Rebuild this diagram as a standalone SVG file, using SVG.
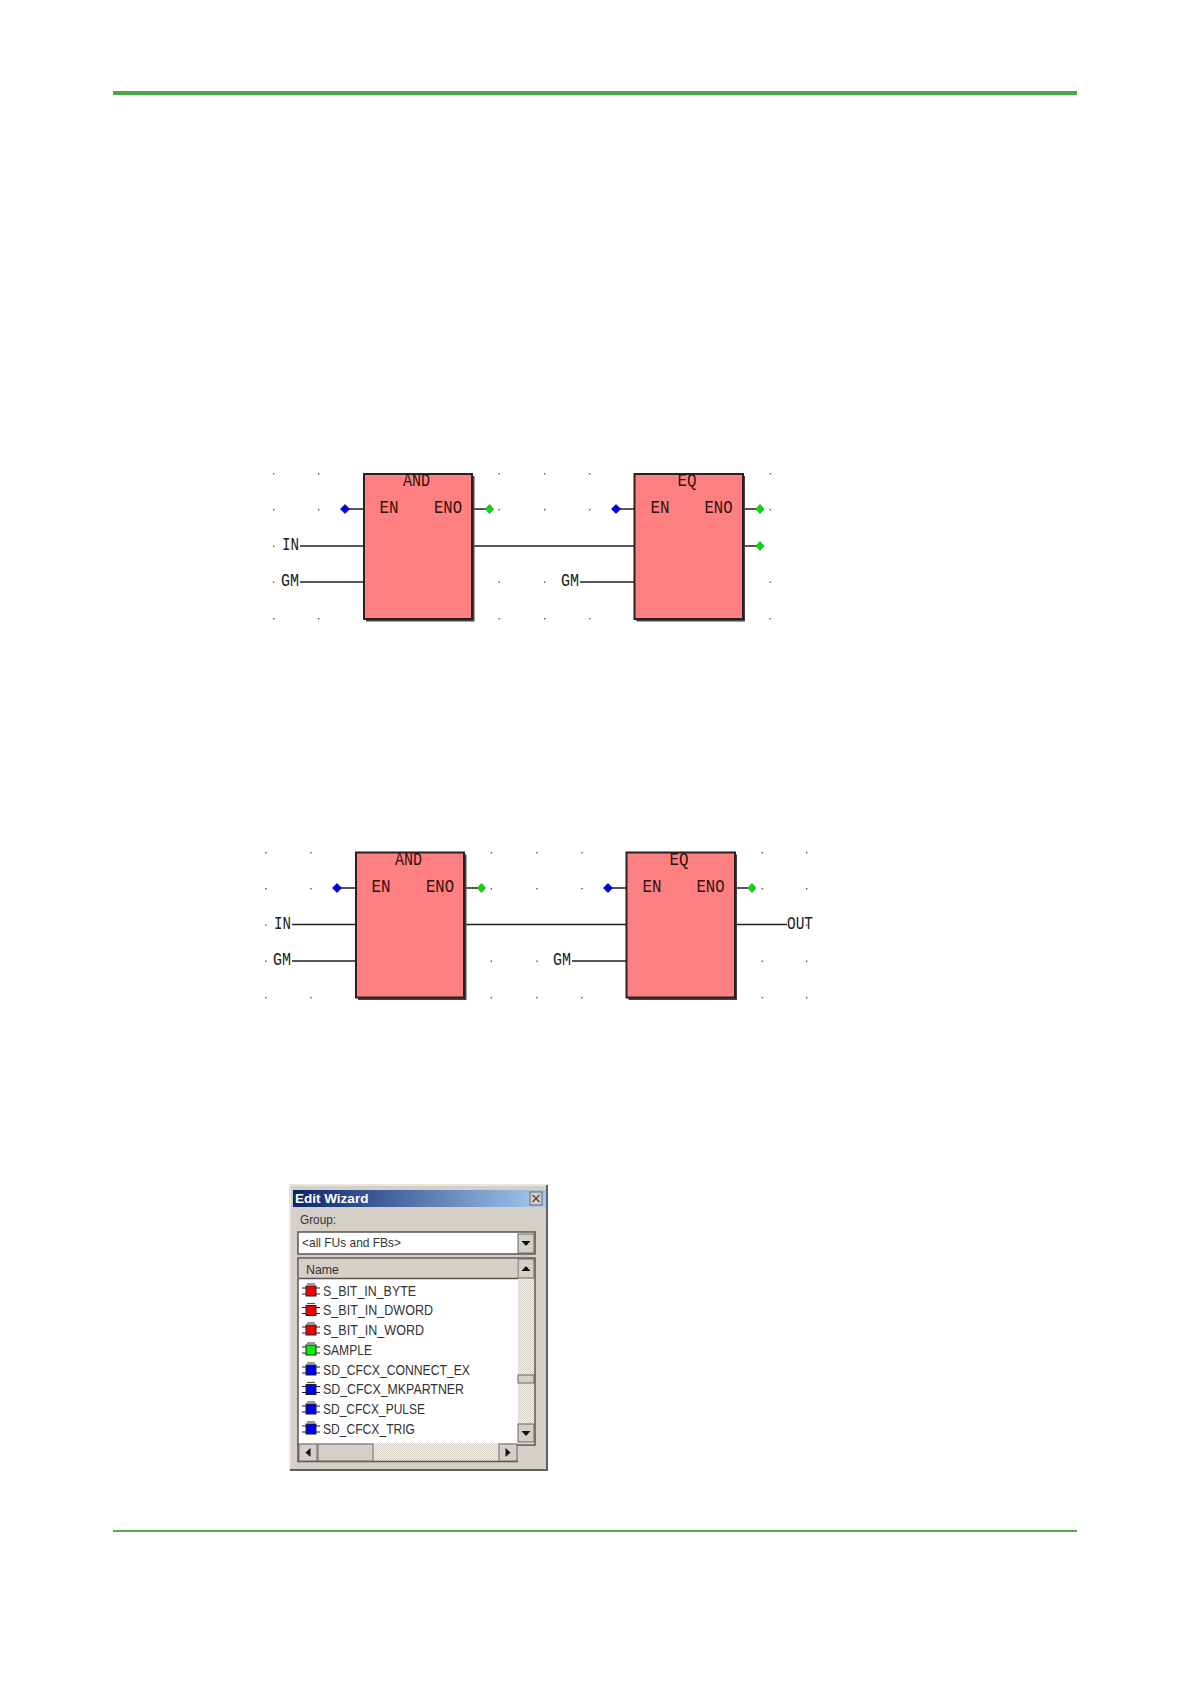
<svg xmlns="http://www.w3.org/2000/svg" xmlns:xlink="http://www.w3.org/1999/xlink" width="1191" height="1684" viewBox="0 0 1191 1684">
<style>
.t{font-family:"Liberation Mono","Courier New",monospace;font-size:18px;fill:#301010;text-anchor:middle}
.l{font-family:"Liberation Mono","Courier New",monospace;font-size:18px;fill:#202020;text-anchor:middle}
.w{stroke:#222;stroke-width:1.6;fill:none}
.box{fill:#ff8080;stroke:#2a2020;stroke-width:2}
.sh{fill:#444}
.d{fill:#555}
.in{fill:#0000e0;stroke:#0000e0;stroke-width:.8;stroke-linejoin:round}
.out{fill:#00e000;stroke:#20a020;stroke-width:.8;stroke-linejoin:round}
.m{font-family:"Liberation Sans",Arial,sans-serif;font-size:13.5px;fill:#333}
.lt{font-family:"Liberation Sans",Arial,sans-serif;font-size:14px;fill:#333}
.pn{fill:#d4d0c8}
.b{fill:#d4d0c8;stroke:#666;stroke-width:1}
.a{fill:#111}
</style>
<defs>
<linearGradient id="tb" x1="0" x2="1" y1="0" y2="0"><stop offset="0" stop-color="#0a246a"/><stop offset="1" stop-color="#a6caf0"/></linearGradient>
<pattern id="dith" width="2" height="2" patternUnits="userSpaceOnUse"><rect width="2" height="2" fill="#f4f2ee"/><rect width="1" height="1" fill="#d4d0c8"/><rect x="1" y="1" width="1" height="1" fill="#d4d0c8"/></pattern>
<g id="dots">
<rect class="d" x="273" y="473" width="1.4" height="1.4"/><rect class="d" x="318" y="473" width="1.4" height="1.4"/><rect class="d" x="498.500" y="473" width="1.4" height="1.4"/><rect class="d" x="544" y="473" width="1.4" height="1.4"/><rect class="d" x="589" y="473" width="1.4" height="1.4"/><rect class="d" x="769.500" y="473" width="1.4" height="1.4"/>
<rect class="d" x="273" y="509" width="1.4" height="1.4"/><rect class="d" x="318" y="509" width="1.4" height="1.4"/><rect class="d" x="498.500" y="509" width="1.4" height="1.4"/><rect class="d" x="544" y="509" width="1.4" height="1.4"/><rect class="d" x="589" y="509" width="1.4" height="1.4"/><rect class="d" x="769.500" y="509" width="1.4" height="1.4"/>
<rect class="d" x="273" y="545.500" width="1.4" height="1.4"/>
<rect class="d" x="273" y="581.500" width="1.4" height="1.4"/><rect class="d" x="498.500" y="581.500" width="1.4" height="1.4"/><rect class="d" x="544" y="581.500" width="1.4" height="1.4"/><rect class="d" x="769.500" y="581.500" width="1.4" height="1.4"/>
<rect class="d" x="273" y="618" width="1.4" height="1.4"/><rect class="d" x="318" y="618" width="1.4" height="1.4"/><rect class="d" x="498.500" y="618" width="1.4" height="1.4"/><rect class="d" x="544" y="618" width="1.4" height="1.4"/><rect class="d" x="589" y="618" width="1.4" height="1.4"/><rect class="d" x="769.500" y="618" width="1.4" height="1.4"/>
</g>
<g id="ic"><path d="M-9-3h18M-9 3h18" stroke="#222" stroke-width="1.2"/><path d="M-4-7h8" stroke="#555" stroke-width="1.2"/><rect x="-5" y="-5" width="10" height="10" stroke="#222" stroke-width="1"/></g>
</defs>
<rect width="1191" height="1684" fill="#fff"/>
<rect id="rule-top" x="113" y="91" width="964" height="4" fill="#4aa545"/>
<rect id="rule-bottom" x="113" y="1530" width="964" height="2" fill="#55a850"/>

<g id="diagram-1">
<use xlink:href="#dots"/>
<g id="connectors-1">
<path class="w" d="M345 509H364M472 509H489M300 546H364M472 546H634M300 582H364M616 509H634M580 582H634M743 509H760M743 546H760"/>
</g>
<g id="and-1"><rect class="sh" x="366" y="476" width="108.500" height="145.500"/><rect class="box" x="364" y="474" width="108" height="145"/>
<text class="t" x="416.500" y="486" textLength="27" lengthAdjust="spacingAndGlyphs">AND</text><text class="t" x="389" y="513" textLength="19" lengthAdjust="spacingAndGlyphs">EN</text><text class="t" x="448" y="513" textLength="28" lengthAdjust="spacingAndGlyphs">ENO</text></g>
<g id="eq-1"><rect class="sh" x="636.500" y="476" width="108.500" height="145.500"/><rect class="box" x="634.500" y="474" width="108.500" height="145"/>
<text class="t" x="687" y="486" textLength="19" lengthAdjust="spacingAndGlyphs">EQ</text><text class="t" x="660" y="513" textLength="19" lengthAdjust="spacingAndGlyphs">EN</text><text class="t" x="718.500" y="513" textLength="28" lengthAdjust="spacingAndGlyphs">ENO</text></g>
<path class="in" d="M345 504.500l4.500 4.500-4.500 4.500-4.500-4.500zM616 504.500l4.500 4.500-4.500 4.500-4.500-4.500z"/>
<path class="out" d="M489.500 504.500l4 4.500-4 4.500-4-4.500zM760 504.500l4 4.500-4 4.500-4-4.500zM760 541.500l4 4.500-4 4.500-4-4.500z"/>
<text class="l" x="290.500" y="550" textLength="17" lengthAdjust="spacingAndGlyphs">IN</text>
<text class="l" x="290" y="586" textLength="18" lengthAdjust="spacingAndGlyphs">GM</text>
<text class="l" x="570" y="586" textLength="18" lengthAdjust="spacingAndGlyphs">GM</text>
</g>

<g id="diagram-2">
<use xlink:href="#dots" x="-7.800" y="379"/>
<g id="extra-dots" class="d"><rect x="806" y="852" width="1.4" height="1.4"/><rect x="806" y="888" width="1.4" height="1.4"/><rect x="806" y="924.500" width="1.4" height="1.4"/><rect x="806" y="960.500" width="1.4" height="1.4"/><rect x="806" y="997" width="1.4" height="1.4"/></g>
<g id="connectors-2" transform="translate(-8 379)">
<path class="w" d="M345 509H364M472 509H489M300 545.500H364M472 545.500H634M300 582H364M616 509H634M580 582H634M743 509H760M743 545.500H795"/>
</g>
<g id="and-2" transform="translate(-8 378.500)"><rect class="sh" x="366" y="476" width="108.500" height="145.500"/><rect class="box" x="364" y="474" width="108" height="145"/>
<text class="t" x="416.500" y="486" textLength="27" lengthAdjust="spacingAndGlyphs">AND</text><text class="t" x="389" y="513" textLength="19" lengthAdjust="spacingAndGlyphs">EN</text><text class="t" x="448" y="513" textLength="28" lengthAdjust="spacingAndGlyphs">ENO</text></g>
<g id="eq-2" transform="translate(-8 378.500)"><rect class="sh" x="636.500" y="476" width="108.500" height="145.500"/><rect class="box" x="634.500" y="474" width="108.500" height="145"/>
<text class="t" x="687" y="486" textLength="19" lengthAdjust="spacingAndGlyphs">EQ</text><text class="t" x="660" y="513" textLength="19" lengthAdjust="spacingAndGlyphs">EN</text><text class="t" x="718.500" y="513" textLength="28" lengthAdjust="spacingAndGlyphs">ENO</text></g>
<g transform="translate(-8 379)">
<path class="in" d="M345 504.500l4.500 4.500-4.500 4.500-4.500-4.500zM616 504.500l4.500 4.500-4.500 4.500-4.500-4.500z"/>
<path class="out" d="M489.500 504.500l4 4.500-4 4.500-4-4.500zM760 504.500l4 4.500-4 4.500-4-4.500z"/>
<text class="l" x="290.500" y="549.500" textLength="17" lengthAdjust="spacingAndGlyphs">IN</text>
<text class="l" x="290" y="585.500" textLength="18" lengthAdjust="spacingAndGlyphs">GM</text>
<text class="l" x="570" y="585.500" textLength="18" lengthAdjust="spacingAndGlyphs">GM</text>
<text class="l" x="808" y="549.500" textLength="26" lengthAdjust="spacingAndGlyphs">OUT</text>
</g>
</g>

<g id="edit-wizard">
<rect x="290" y="1185" width="258" height="286" fill="#d4d0c8"/>
<path d="M290 1471V1185H548" fill="none" stroke="#e8e6e0" stroke-width="2"/>
<path d="M290 1470H547V1185" fill="none" stroke="#606060" stroke-width="2"/>
<rect x="293" y="1190" width="253" height="17" fill="url(#tb)"/>
<text x="295" y="1203" font-family="'Liberation Sans',Arial,sans-serif" font-size="13.500" font-weight="700" fill="#fff">Edit Wizard</text>
<rect class="b" x="530" y="1192" width="12" height="13"/>
<path d="M532.500 1195l7 7m0-7l-7 7" stroke="#444" stroke-width="1.200"/>
<text class="m" x="300" y="1224" textLength="36" lengthAdjust="spacingAndGlyphs">Group:</text>
<rect x="298" y="1232" width="237" height="22" fill="#fff" stroke="#555" stroke-width="1.500"/>
<text class="m" x="302" y="1247" textLength="99" lengthAdjust="spacingAndGlyphs">&lt;all FUs and FBs&gt;</text>
<rect class="b" x="518" y="1234" width="16" height="19"/>
<path class="a" d="M521.500 1241h9l-4.500 5z"/>
<rect x="298" y="1258" width="237" height="187" fill="#fff" stroke="#555" stroke-width="1.500"/>
<rect x="299" y="1259" width="218" height="19" class="pn"/>
<path d="M299 1278.500h219" stroke="#555" stroke-width="1.500"/>
<text class="m" x="306" y="1274" textLength="33" lengthAdjust="spacingAndGlyphs">Name</text>
<rect x="518" y="1278" width="16" height="166" fill="url(#dith)"/>
<rect class="b" x="518" y="1259" width="16" height="19"/>
<path class="a" d="M521.500 1271h9l-4.500-5z"/>
<rect class="b" x="518" y="1375" width="16" height="8"/>
<rect class="b" x="518" y="1424" width="16" height="18"/>
<path class="a" d="M521.500 1431h9l-4.500 5z"/>
<rect x="299" y="1443" width="218" height="18" fill="url(#dith)"/>
<path d="M298 1444.500V1461.500H518" fill="none" stroke="#555" stroke-width="1.500"/>
<rect class="b" x="299" y="1444" width="18" height="17"/>
<path class="a" d="M310.500 1448v9l-5-4.500z"/>
<rect class="b" x="318" y="1444" width="55" height="17"/>
<rect class="b" x="499" y="1444" width="18" height="17"/>
<path class="a" d="M505.500 1448v9l5-4.500z"/>
<g id="rows">
<use xlink:href="#ic" x="311" y="1291" fill="#f00000"/><text class="lt" x="323" y="1295.500" textLength="93" lengthAdjust="spacingAndGlyphs">S_BIT_IN_BYTE</text>
<use xlink:href="#ic" x="311" y="1310.500" fill="#f00000"/><text class="lt" x="323" y="1315" textLength="110" lengthAdjust="spacingAndGlyphs">S_BIT_IN_DWORD</text>
<use xlink:href="#ic" x="311" y="1330" fill="#f00000"/><text class="lt" x="323" y="1334.500" textLength="101" lengthAdjust="spacingAndGlyphs">S_BIT_IN_WORD</text>
<use xlink:href="#ic" x="311" y="1350" fill="#00f000"/><text class="lt" x="323" y="1355" textLength="49" lengthAdjust="spacingAndGlyphs">SAMPLE</text>
<use xlink:href="#ic" x="311" y="1370" fill="#0000f0"/><text class="lt" x="323" y="1374.500" textLength="147" lengthAdjust="spacingAndGlyphs">SD_CFCX_CONNECT_EX</text>
<use xlink:href="#ic" x="311" y="1389.500" fill="#0000f0"/><text class="lt" x="323" y="1394" textLength="141" lengthAdjust="spacingAndGlyphs">SD_CFCX_MKPARTNER</text>
<use xlink:href="#ic" x="311" y="1409" fill="#0000f0"/><text class="lt" x="323" y="1414" textLength="102" lengthAdjust="spacingAndGlyphs">SD_CFCX_PULSE</text>
<use xlink:href="#ic" x="311" y="1429" fill="#0000f0"/><text class="lt" x="323" y="1433.500" textLength="92" lengthAdjust="spacingAndGlyphs">SD_CFCX_TRIG</text>
</g>
</g>
</svg>
